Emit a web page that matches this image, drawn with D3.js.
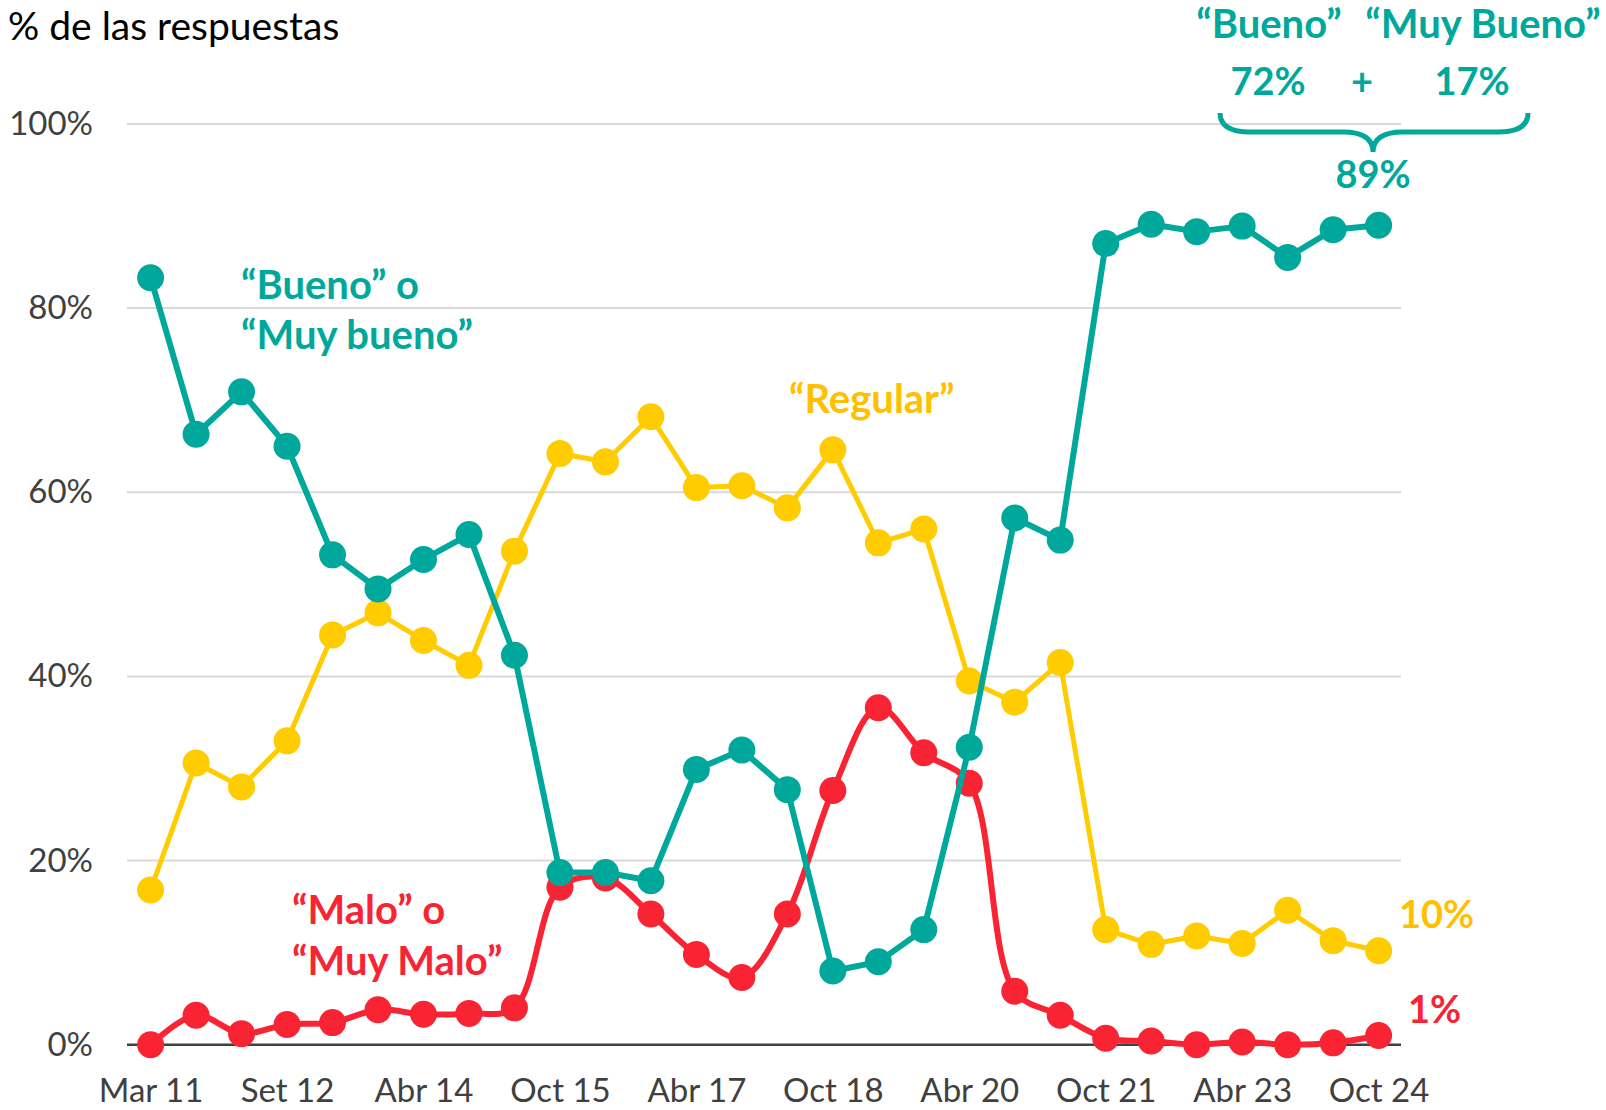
<!DOCTYPE html>
<html>
<head>
<meta charset="utf-8">
<script src="https://cdn.jsdelivr.net/npm/d3@7"></script>
<style>
  body { margin: 0; background: #fff; }
  svg text { font-family: Lato, "Open Sans", sans-serif; }
  .tick text { fill: #404040; }
</style>
</head>
<body>
<div id="chart"></div>
<script>
var svgWidth = 1606;
var svgHeight = 1110;

// survey periods (every 6 months)
var periods = ["Mar 11", "Set 11", "Mar 12", "Set 12", "Abr 13", "Oct 13", "Abr 14", "Oct 14",
  "Abr 15", "Oct 15", "Abr 16", "Oct 16", "Abr 17", "Oct 17", "Abr 18", "Oct 18",
  "Abr 19", "Oct 19", "Abr 20", "Oct 20", "Abr 21", "Oct 21", "Abr 22", "Oct 22",
  "Abr 23", "Oct 23", "Abr 24", "Oct 24"];
var xTickLabels = ["Mar 11", "Set 12", "Abr 14", "Oct 15", "Abr 17", "Oct 18", "Abr 20", "Oct 21", "Abr 23", "Oct 24"];
var yTicks = [0, 20, 40, 60, 80, 100];

var bueno = [83.3, 66.3, 70.9, 65.0, 53.2, 49.5, 52.7, 55.4, 42.3, 18.7, 18.7, 17.8, 29.9, 32.0,
  27.7, 8.0, 9.0, 12.5, 32.3, 57.2, 54.8, 87.0, 89.1, 88.3, 88.9, 85.5, 88.5, 89.0];
var regular = [16.8, 30.6, 28.0, 33.0, 44.5, 46.9, 43.9, 41.2, 53.6, 64.2, 63.3, 68.2, 60.5, 60.7,
  58.3, 64.6, 54.5, 56.0, 39.5, 37.2, 41.5, 12.5, 10.9, 11.8, 11.0, 14.6, 11.3, 10.2];
var malo = [0, 3.2, 1.2, 2.2, 2.4, 3.8, 3.3, 3.4, 4.0, 17.1, 18.1, 14.2, 9.8, 7.3,
  14.2, 27.6, 36.6, 31.7, 28.4, 5.8, 3.2, 0.7, 0.4, 0, 0.3, 0, 0.2, 1.0];

var teal = "#00A89C", yellow = "#FFCC00", yellowText = "#FFC000", red = "#F92433";

var svg = d3.select("#chart")
    .append("svg")
    .attr("width", svgWidth)
    .attr("height", svgHeight);

var xScale = d3.scalePoint()
    .domain(periods)
    .range([150.6, 1378.6]);

var yScale = d3.scaleLinear()
    .domain([0, 100])
    .range([1044.7, 123.9]);

// gridlines
svg.append("g")
    .selectAll("line")
    .data(yTicks.filter(d => d > 0))
    .enter()
    .append("line")
    .attr("x1", 127)
    .attr("x2", 1401)
    .attr("y1", d => yScale(d))
    .attr("y2", d => yScale(d))
    .attr("stroke", "#d9d9d9")
    .attr("stroke-width", 2);

svg.append("line")
    .attr("x1", 127)
    .attr("x2", 1401)
    .attr("y1", yScale(0))
    .attr("y2", yScale(0))
    .attr("stroke", "#404040")
    .attr("stroke-width", 2.5);

var leftAxis = d3.axisLeft(yScale)
    .tickValues(yTicks)
    .tickSize(0)
    .tickPadding(0)
    .tickFormat(d => d + "%");

svg.append("g")
    .attr("transform", "translate(93,0)")
    .call(leftAxis)
    .call(g => g.select(".domain").remove())
    .call(g => g.selectAll("text").style("font-size", "33px"));

var bottomAxis = d3.axisBottom(xScale)
    .tickValues(xTickLabels)
    .tickSize(0)
    .tickPadding(0);

svg.append("g")
    .attr("transform", "translate(0,1079)")
    .call(bottomAxis)
    .call(g => g.select(".domain").remove())
    .call(g => g.selectAll("text").style("font-size", "33px"));

function drawSeries(values, color, width, curve) {
    var line = d3.line()
        .x((d, i) => xScale(periods[i]))
        .y(d => yScale(d))
        .curve(curve);
    var g = svg.append("g");
    g.append("path")
        .datum(values)
        .attr("d", line)
        .attr("fill", "none")
        .attr("stroke", color)
        .attr("stroke-width", width)
        .attr("stroke-linejoin", "round");
    g.selectAll("circle")
        .data(values)
        .enter()
        .append("circle")
        .attr("cx", (d, i) => xScale(periods[i]))
        .attr("cy", d => yScale(d))
        .attr("r", 13.5)
        .attr("fill", color);
}

drawSeries(regular, yellow, 5, d3.curveLinear);
drawSeries(malo, red, 6, d3.curveCatmullRom.alpha(0.5));
drawSeries(bueno, teal, 6, d3.curveLinear);

// title
svg.append("text")
    .attr("x", 8)
    .attr("y", 40)
    .style("font-size", "39px")
    .style("fill", "#000")
    .text("% de las respuestas");

function label(x, y, txt, color, size, anchor) {
    svg.append("text")
        .attr("x", x)
        .attr("y", y)
        .attr("text-anchor", anchor || "start")
        .style("font-size", size + "px")
        .style("font-weight", "bold")
        .style("fill", color)
        .text(txt);
}

label(241, 299, "\u201CBueno\u201D o", teal, 40);
label(241, 349, "\u201CMuy bueno\u201D", teal, 40);
label(789, 413, "\u201CRegular\u201D", yellowText, 40);
label(292, 924, "\u201CMalo\u201D o", red, 40);
label(292, 975, "\u201CMuy Malo\u201D", red, 40);
label(1399, 928, "10%", yellowText, 38);
label(1408, 1023, "1%", red, 38);

label(1269, 38, "\u201CBueno\u201D", teal, 40, "middle");
label(1483, 38, "\u201CMuy Bueno\u201D", teal, 40, "middle");
label(1268, 95, "72%", teal, 38, "middle");
label(1362, 95, "+", teal, 38, "middle");
label(1472, 95, "17%", teal, 38, "middle");
label(1373, 188, "89%", teal, 38, "middle");

svg.append("path")
    .attr("d", "M1220,113 Q1220,132 1250,132 L1343,132 Q1373,132 1373,152 Q1373,132 1403,132 L1498,132 Q1528,132 1528,113")
    .attr("fill", "none")
    .attr("stroke", teal)
    .attr("stroke-width", 5);
</script>
</body>
</html>
